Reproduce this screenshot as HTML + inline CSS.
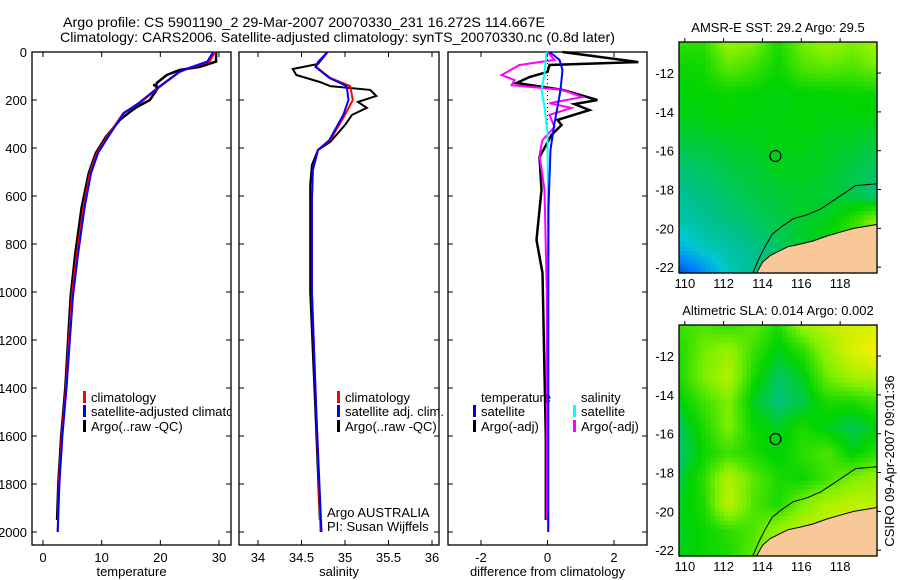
<!DOCTYPE html>
<html><head><meta charset="utf-8"><style>
html,body{margin:0;padding:0;background:#fff;}
svg{display:block;font-family:"Liberation Sans",sans-serif;}
</style></head><body>
<svg id="fig" width="900" height="580" xmlns="http://www.w3.org/2000/svg">
<defs><clipPath id="clip1"><rect x="32" y="52" width="199" height="493"/></clipPath></defs>
<rect width="900" height="580" fill="#fff"/>
<text x="63" y="27" font-size="14" textLength="482" lengthAdjust="spacingAndGlyphs">Argo profile: CS 5901190_2 29-Mar-2007 20070330_231 16.272S 114.667E</text>
<text x="60" y="42" font-size="14" textLength="555" lengthAdjust="spacingAndGlyphs">Climatology: CARS2006. Satellite-adjusted climatology: synTS_20070330.nc (0.8d later)</text>
<g id="g"></g>
</svg>
<script>
// ---------- data ----------
const tempDepthClim = [0,40,67,83,146,213,254,354,421,504,646,838,1021,1400,1600,1800,2000];
const tempClim      = [29.3,28.4,25.0,23.3,19.9,16.5,13.7,10.9,9.2,8.0,6.9,5.8,4.9,3.9,3.2,2.7,2.5];
const tempSat       = [29.0,28.0,24.8,23.2,19.7,16.3,13.8,11.1,9.4,8.2,7.1,6.0,5.1,4.0,3.3,2.8,2.5];
const tempDepthArgo = [0,40,62,75,96,129,142,135,150,200,229,250,283,354,421,504,646,838,1021,1400,1600,1800,1950];
const tempArgo      = [29.5,29.5,26.7,23.3,21.1,19.4,19.3,18.8,19.6,18.2,16.0,14.8,13.1,10.7,9.0,7.8,6.6,5.5,4.7,3.8,3.1,2.6,2.4];

const salDepthClim = [0,42,62,108,142,200,262,367,408,492,617,1000,1500,2000];
const salClim      = [34.80,34.69,34.67,34.83,35.06,35.09,35.00,34.83,34.69,34.63,34.62,34.62,34.67,34.72];
const salSat       = [34.80,34.69,34.66,34.82,35.02,35.04,34.98,34.82,34.69,34.63,34.62,34.62,34.67,34.73];
const salDepthArgo = [0,50,71,96,125,142,158,183,208,233,262,304,375,408,471,554,1000,1500,1950];
const salArgo      = [34.80,34.69,34.40,34.44,34.71,34.83,35.29,35.36,35.15,35.25,35.08,35.00,34.83,34.69,34.62,34.60,34.60,34.66,34.71];

const dDepthTSat = [0,33,75,158,229,296,408,646,1000,1500,2000];
const dTSat      = [0.06,0.36,0.45,0.39,0.30,0.21,0.09,0.03,0.02,0.02,0.02];
const dDepthTArgo = [0,42,54,83,104,129,158,200,217,242,283,304,346,438,575,783,921,1338,1600,1950];
const dTArgo      = [0.45,2.73,0.06,0.0,-0.54,-0.93,0.45,1.50,0.81,1.26,0.30,0.42,0.12,-0.24,-0.18,-0.33,-0.15,-0.09,-0.05,-0.05];
const dDepthSSat = [0,88,158,229,338,1000,2000];
const dSSat      = [-0.03,-0.09,-0.18,-0.09,0.0,0.03,0.03];
const dDepthSArgo = [0,33,54,96,117,138,158,188,213,233,262,313,367,429,575,1000,1950];
const dSArgo      = [0.0,0.21,-0.84,-1.38,-0.99,-1.08,0.45,1.05,0.06,0.72,0.06,0.21,-0.15,-0.24,-0.09,-0.02,-0.02];

const depthTicks = [0,200,400,600,800,1000,1200,1400,1600,1800,2000];
const tempTicks = [0,10,20,30];
const salTicks = [34,34.5,35,35.5,36];
const diffTicks = [-2,0,2];
const lonTicks = [110,112,114,116,118];
const latTicks = [-12,-14,-16,-18,-20,-22];

const sstGrid = [
[0.60,0.60,0.74,0.70,0.58,0.68,0.74,0.70,0.76],
[0.56,0.57,0.66,0.62,0.56,0.64,0.66,0.64,0.68],
[0.55,0.55,0.56,0.55,0.54,0.55,0.55,0.56,0.56],
[0.53,0.54,0.55,0.54,0.54,0.55,0.54,0.54,0.54],
[0.50,0.51,0.52,0.53,0.54,0.54,0.53,0.52,0.50],
[0.47,0.48,0.50,0.51,0.53,0.53,0.52,0.50,0.48],
[0.44,0.46,0.48,0.50,0.51,0.52,0.51,0.50,0.46],
[0.40,0.44,0.46,0.48,0.50,0.52,0.53,0.60,0.72],
[0.30,0.38,0.42,0.45,0.48,0.52,0.56,0.64,0.60],
[0.10,0.22,0.38,0.44,0.50,0.55,0.60,0.62,0.62]];
const slaGrid = [
[0.62,0.64,0.60,0.66,0.58,0.74,0.80,0.84,0.85],
[0.58,0.68,0.74,0.62,0.53,0.60,0.74,0.85,0.92],
[0.58,0.70,0.78,0.58,0.48,0.53,0.68,0.76,0.78],
[0.54,0.62,0.70,0.53,0.46,0.50,0.58,0.58,0.62],
[0.48,0.58,0.70,0.56,0.53,0.58,0.53,0.49,0.53],
[0.47,0.56,0.62,0.58,0.54,0.60,0.64,0.54,0.60],
[0.50,0.60,0.78,0.66,0.58,0.56,0.62,0.70,0.74],
[0.53,0.58,0.80,0.64,0.58,0.70,0.78,0.80,0.80],
[0.53,0.56,0.60,0.64,0.74,0.80,0.80,0.80,0.80],
[0.53,0.56,0.58,0.66,0.80,0.82,0.80,0.80,0.80]];
const coastLon = [113.7,114.0,114.4,115.3,116.0,116.6,117.3,118.0,118.7,119.9,119.9];
const coastLat = [-22.3,-21.75,-21.4,-20.95,-20.8,-20.65,-20.4,-20.2,-20.0,-19.8,-22.3];
const isoLon = [113.5,113.8,114.1,114.5,115.0,115.6,116.3,117.0,117.6,118.2,118.8,119.9];
const isoLat = [-22.3,-21.6,-21.0,-20.3,-19.9,-19.5,-19.3,-19.0,-18.6,-18.2,-17.8,-17.7];
const argoLon = 114.667, argoLat = -16.272;

// ---------- drawing ----------
const NS="http://www.w3.org/2000/svg";
const root=document.getElementById('g');
function mk(tag,attrs,parent){const e=document.createElementNS(NS,tag);for(const k in attrs)e.setAttribute(k,attrs[k]);(parent||root).appendChild(e);return e;}
function lin(d0,d1,r0,r1){return v=>r0+(v-d0)*(r1-r0)/(d1-d0);}
const yD = lin(0,2000,52,532);

function panel(name,x0,x1,xs,ticks,fmt,label){
  const g=mk('g',{});
  
  
  const fr=mk('rect',{x:x0,y:52,width:x1-x0,height:493,fill:'none',stroke:'#000','stroke-width':1.3},g);
  
  
  depthTicks.forEach(d=>{const y=yD(d);
    mk('line',{x1:x0,x2:x0+5,y1:y,y2:y,stroke:'#000'},g);
    mk('line',{x1:x1,x2:x1-5,y1:y,y2:y,stroke:'#000'},g);});
  ticks.forEach(v=>{const x=xs(v);
    mk('line',{x1:x,x2:x,y1:545,y2:540,stroke:'#000'},g);
    mk('line',{x1:x,x2:x,y1:52,y2:57,stroke:'#000'},g);
    const t=mk('text',{x:x,y:562,'font-size':13,'text-anchor':'middle'},g);t.textContent=fmt(v);
    
    });
  const l=mk('text',{x:(x0+x1)/2,y:576,'font-size':13,'text-anchor':'middle'},g);l.textContent=label;
  
  
  return g;
}
function series(g,name,vals,depths,xs,color,w){
  const pts=vals.map((v,i)=>xs(v).toFixed(1)+','+yD(depths[i]).toFixed(1)).join(' ');
  const p=mk('polyline',{points:pts,fill:'none',stroke:color,'stroke-width':w,'stroke-linejoin':'miter'},g);
  
  
}
function legend(g,x,y,color,text,name){
  if(color){mk('rect',{x:x,y:y-11,width:3,height:12,fill:color},g);}
  const t=mk('text',{x:x+8,y:y,'font-size':13},g);t.textContent=text;
  
  
  return t;
}

depthTicks.forEach(d=>{const t=mk('text',{x:27,y:yD(d)+5,'font-size':13,'text-anchor':'end'});t.textContent=d;
  
  });

// panel 1
const xT=lin(0,30,43,219);
const p1=panel('temperature-panel',32,231,xT,tempTicks,v=>v,'temperature');
series(p1,'temp-argo-line',tempArgo,tempDepthArgo,xT,'#000',2.5);
series(p1,'temp-clim-line',tempClim,tempDepthClim,xT,'#f00',2);
series(p1,'temp-sat-line',tempSat,tempDepthClim,xT,'#00f',2);
legend(p1,83,402,'#f00','climatology','legend-climatology');
const lt=legend(p1,83,416,'#00f','satellite-adjusted climatology','legend-satellite');
lt.setAttribute('clip-path','url(#clip1)');
legend(p1,83,431,'#000','Argo(..raw -QC)','legend-argo');

// panel 2
const xS=lin(34,36,258,432);
const p2=panel('salinity-panel',239,439,xS,salTicks,v=>v,'salinity');
series(p2,'sal-argo-line',salArgo,salDepthArgo,xS,'#000',2);
series(p2,'sal-clim-line',salClim,salDepthClim,xS,'#f00',2);
series(p2,'sal-sat-line',salSat,salDepthClim,xS,'#00f',2);
legend(p2,337,402,'#f00','climatology','legend-climatology');
legend(p2,337,416,'#00f','satellite adj. clim.','legend-satellite');
legend(p2,337,431,'#000','Argo(..raw -QC)','legend-argo');
legend(p2,319,517,null,'Argo AUSTRALIA','credit-argo-australia');
legend(p2,319,531,null,'PI: Susan Wijffels','credit-pi');

// panel 3
const xD=lin(-2,2,481,614);
const p3=panel('difference-panel',448,647,xD,diffTicks,v=>v,'difference from climatology');
mk('line',{x1:xD(0),x2:xD(0),y1:55,y2:160,stroke:'#000','stroke-dasharray':'1,3'},p3);
series(p3,'diff-temp-argo-line',dTArgo,dDepthTArgo,xD,'#000',2.5);
series(p3,'diff-sal-argo-line',dSArgo,dDepthSArgo,xD,'#f0f',2);
series(p3,'diff-sal-sat-line',dSSat,dDepthSSat,xD,'#0ff',2);
series(p3,'diff-temp-sat-line',dTSat,dDepthTSat,xD,'#00f',2);
legend(p3,473,402,null,'temperature','legend-temperature-header');
legend(p3,473,416,'#00f','satellite','legend-temp-satellite');
legend(p3,473,431,'#000','Argo(-adj)','legend-temp-argo');
legend(p3,573,402,null,'salinity','legend-salinity-header');
legend(p3,573,416,'#0ff','satellite','legend-sal-satellite');
legend(p3,573,431,'#f0f','Argo(-adj)','legend-sal-argo');

// colormap
const cStops=[[0,[0,24,150]],[0.2,[0,128,255]],[0.35,[0,200,210]],[0.45,[0,192,140]],[0.55,[0,212,0]],[0.7,[128,240,0]],[0.8,[190,240,0]],[0.9,[240,240,0]],[1,[245,190,0]]];
function cmap(v){v=Math.max(0,Math.min(1,v));for(let i=1;i<cStops.length;i++){if(v<=cStops[i][0]){const a=cStops[i-1],b=cStops[i];const t=(v-a[0])/(b[0]-a[0]);const c=a[1].map((x,k)=>Math.round(x+(b[1][k]-x)*t));return 'rgb('+c.join(',')+')';}}return 'rgb(245,190,0)';}
function sample(grid,fx,fy){const R=grid.length-1,C=grid[0].length-1;const x=fx*C,y=fy*R;const i=Math.min(R-1,Math.floor(y)),j=Math.min(C-1,Math.floor(x));const ty=y-i,tx=x-j;
  return grid[i][j]*(1-tx)*(1-ty)+grid[i][j+1]*tx*(1-ty)+grid[i+1][j]*(1-tx)*ty+grid[i+1][j+1]*tx*ty;}

function mapPanel(name,top,grid,title){
  const g=mk('g',{});
  
  
  const L=679,R=877,B=top+231;
  const xm=lin(109.7,119.9,L,R), ym=lin(-10.4,-22.3,top,B);
  const nx=44,ny=52;const cw=(R-L)/nx,ch=(B-top)/ny;
  for(let i=0;i<ny;i++)for(let j=0;j<nx;j++){
    mk('rect',{x:(L+j*cw).toFixed(2),y:(top+i*ch).toFixed(2),width:(cw+0.6).toFixed(2),height:(ch+0.6).toFixed(2),fill:cmap(sample(grid,(j+0.5)/nx,(i+0.5)/ny))},g);}
  const land=mk('polygon',{points:coastLon.map((v,i)=>xm(v).toFixed(1)+','+ym(coastLat[i]).toFixed(1)).join(' '),fill:'#f8c898',stroke:'#000','stroke-width':1},g);
  
  
  const iso=mk('polyline',{points:isoLon.map((v,i)=>xm(v).toFixed(1)+','+ym(isoLat[i]).toFixed(1)).join(' '),fill:'none',stroke:'#000','stroke-width':1},g);
  
  
  const c=mk('circle',{cx:xm(argoLon),cy:ym(argoLat),r:5.5,fill:'none',stroke:'#000','stroke-width':1.2},g);
  
  
  mk('rect',{x:L,y:top,width:R-L,height:B-top,fill:'none',stroke:'#000','stroke-width':1.3},g);
  lonTicks.forEach(v=>{const x=xm(v);mk('line',{x1:x,x2:x,y1:top,y2:top-4,stroke:'#000'},g);
    const t=mk('text',{x:x,y:B+15,'font-size':13,'text-anchor':'middle'},g);t.textContent=v;
    
    });
  latTicks.forEach(v=>{const y=ym(v);mk('line',{x1:R,x2:R+4,y1:y,y2:y,stroke:'#000'},g);
    const t=mk('text',{x:L-5,y:y+5,'font-size':13,'text-anchor':'end'},g);t.textContent=v;
    
    });
  const tt=mk('text',{x:778,y:top-10,'font-size':13,'text-anchor':'middle'},g);tt.textContent=title;
  
  
}
mapPanel('sst-map',42,sstGrid,'AMSR-E SST: 29.2 Argo: 29.5');
mapPanel('sla-map',325,slaGrid,'Altimetric SLA: 0.014 Argo: 0.002');
const st=mk('text',{x:0,y:0,'font-size':13,'text-anchor':'middle',transform:'translate(894,461) rotate(-90)'});
st.textContent='CSIRO 09-Apr-2007 09:01:36';


</script>
</body></html>
